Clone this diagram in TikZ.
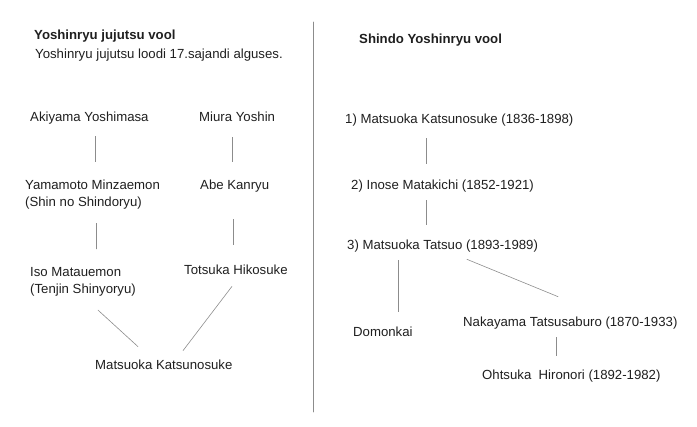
\documentclass[tikz,border=0pt]{standalone}
\usepackage{fontspec}
\setmainfont{Liberation Sans}
\begin{document}
\begin{tikzpicture}[x=1pt,y=-1pt,line join=round,line cap=round,
	every node/.style={inner sep=0pt,anchor=west,text=black!88,font=\fontsize{13.2}{17}\selectfont,text height=9.5pt,text depth=2.8pt},
	ttl/.style={font=\fontsize{13.2}{17}\selectfont\bfseries},
	two/.style={align=left,text height=,text depth=},
	link/.style={draw=black!45,line width=0.6pt}]
			\useasboundingbox (0,0) rectangle (697,427);
			\draw[black!45,line width=0.8pt] (313,22)--(313,412); % Vẽ đường chia đôi
			% Cột trái
			\node[ttl] (ttlL) at (34,36) {Yoshinryu jujutsu vool};
			\node (sub) at (35,55) {Yoshinryu jujutsu loodi 17.sajandi alguses.};
			\node (aki) at (30,118) {Akiyama Yoshimasa};
			\node (miu) at (199,118) {Miura Yoshin};
			\node[two] (yam) at (25,194.5) {Yamamoto Minzaemon\\(Shin no Shindoryu)};
			\node (abe) at (200,186) {Abe Kanryu};
			\node[two] (iso) at (30,281.5) {Iso Matauemon\\(Tenjin Shinyoryu)};
			\node (tot) at (184,271) {Totsuka Hikosuke};
			\node (mat) at (95,366) {Matsuoka Katsunosuke};
			\draw[link] ([xshift=65pt,yshift=-12pt]aki.south west)--([xshift=70pt,yshift=18pt]yam.north west);
			\draw[link] ([xshift=33pt,yshift=-13pt]miu.south west)--([xshift=32pt,yshift=18pt]abe.north west);
			\draw[link] ([xshift=71pt,yshift=-14pt]yam.south west)--([xshift=66pt,yshift=18pt]iso.north west);
			\draw[link] ([xshift=33pt,yshift=-27pt]abe.south west)--([xshift=49pt,yshift=20pt]tot.north west);
			\draw[link] ([xshift=68pt,yshift=-14pt]iso.south west)--([xshift=43pt,yshift=13pt]mat.north west);
			\draw[link] ([xshift=48pt,yshift=-9pt]tot.south west)--([xshift=88pt,yshift=9pt]mat.north west);
			% Cột phải
			\node[ttl] (ttlR) at (359,40) {Shindo Yoshinryu vool};
			\node (ka) at (345,120) {1) Matsuoka Katsunosuke (1836-1898)};
			\node (ino) at (351,186) {2) Inose Matakichi (1852-1921)};
			\node (tat) at (347,246) {3) Matsuoka Tatsuo (1893-1989)};
			\node (dom) at (353,333) {Domonkai};
			\node (nak) at (463,323) {Nakayama Tatsusaburo (1870-1933)};
			\node (oht) at (482,376) {Ohtsuka\ \ Hironori (1892-1982)};
			\draw[link] ([xshift=81pt,yshift=-12pt]ka.south west)--([xshift=75pt,yshift=16pt]ino.north west);
			\draw[link] ([xshift=75pt,yshift=-8pt]ino.south west)--([xshift=79pt,yshift=15pt]tat.north west);
			\draw[link] ([xshift=51pt,yshift=-8pt]tat.south west)--([xshift=45pt,yshift=15pt]dom.north west);
			\draw[link] ([xshift=120pt,yshift=-7pt]tat.south west)--([xshift=95pt,yshift=20pt]nak.north west);
			\draw[link] ([xshift=93pt,yshift=-8pt]nak.south west)--([xshift=74pt,yshift=14pt]oht.north west);
		\end{tikzpicture}
\end{document}
